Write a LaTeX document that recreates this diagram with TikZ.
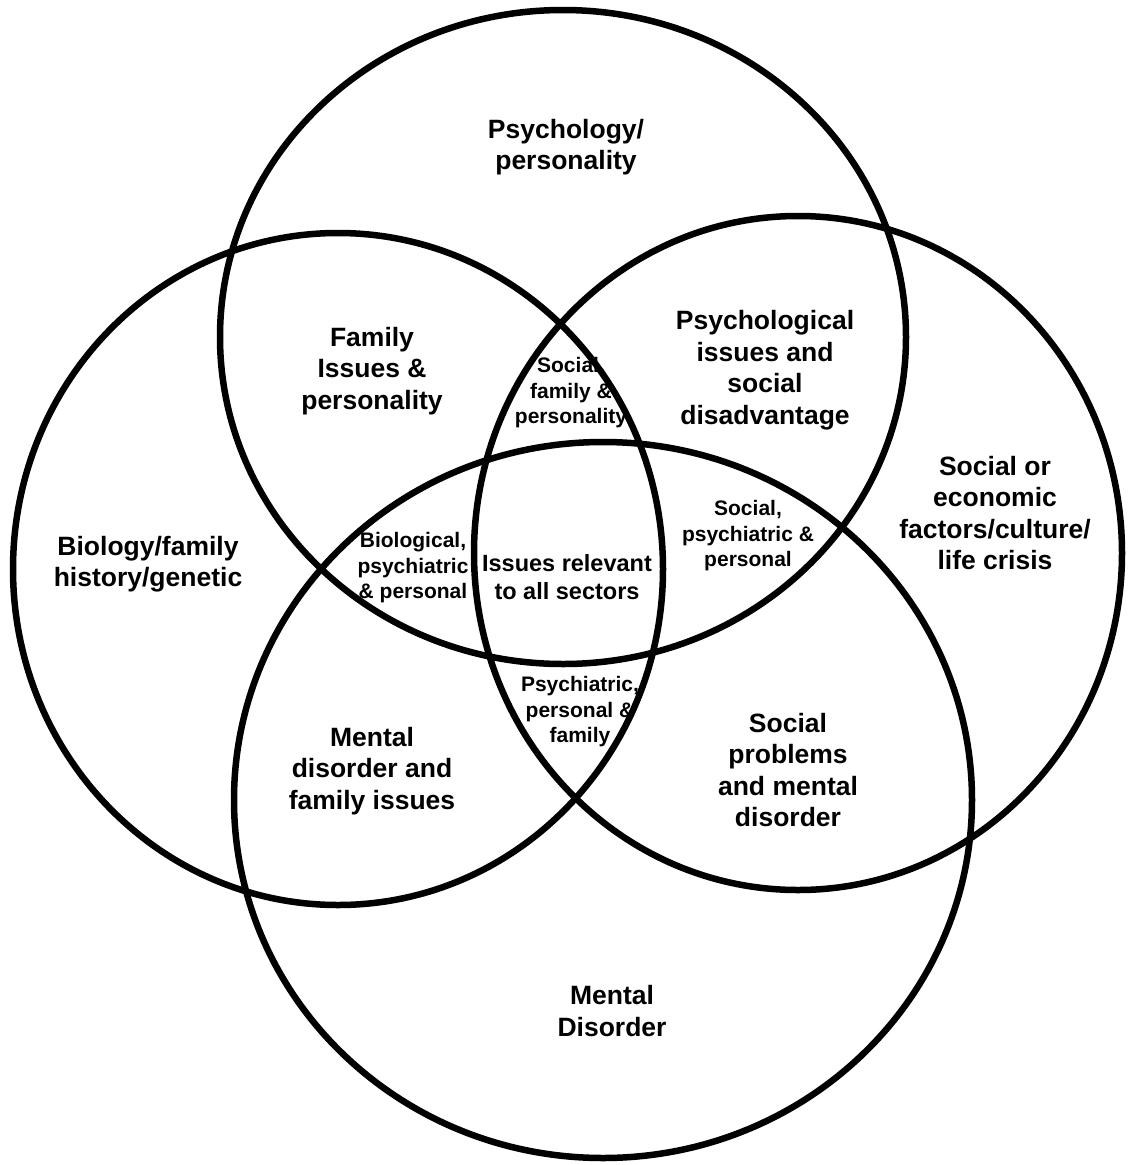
\documentclass[tikz,border=0pt]{standalone}
\usepackage{fontspec}
\setmainfont{Liberation Sans}
\usetikzlibrary{shapes.geometric}

\begin{document}
\begin{tikzpicture}[x=1pt,y=-1pt]
            \tikzstyle{sector}=[ellipse, draw, line width=6.5pt, inner sep=0pt]
            \tikzstyle{big}=[align=center, inner sep=0pt, font=\fontsize{26.5}{31.5}\selectfont\bfseries]
            \tikzstyle{mid}=[align=center, inner sep=0pt, font=\fontsize{23.5}{28.5}\selectfont\bfseries]
            \tikzstyle{small}=[align=center, inner sep=0pt, font=\fontsize{21}{25.5}\selectfont\bfseries]

            \useasboundingbox (0,0) rectangle (1129,1165);

            % single sectors
            \node[big] (psy)  at (566,147)  {Psychology/\\personality};
            \node[big] (bio)  at (148,564)  {Biology/family\\history/genetic};
            \node[big] (soc)  at (995,513)  {Social or\\economic\\factors/culture/\\life crisis};
            \node[big] (men)  at (612,1011) {Mental\\Disorder};

            % two sectors
            \node[big] (fampsy) at (372,371) {Family\\Issues \&\\personality};
            \node[big] (psysoc) at (765,370) {Psychological\\issues and\\social\\disadvantage};
            \node[big] (menfam) at (372,771) {Mental\\disorder and\\family issues};
            \node[big] (socmen) at (788,770) {Social\\problems\\and mental\\disorder};

            % three sectors
            \node[small] (sfp) at (571,393) {Social,\\family \&\\personality};
            \node[small] (bpp) at (413,568) {Biological,\\psychiatric\\\& personal};
            \node[small] (spp) at (748,536) {Social,\\psychiatric \&\\personal};
            \node[small] (ppf) at (580,712) {Psychiatric,\\personal \&\\family};

            % all sectors
            \node[mid] (all) at (567,577) {Issues relevant\\to all sectors};

            \node[sector, minimum width=686pt, minimum height=654pt] (psych)  at (563,337) {};
            \node[sector, minimum width=650pt, minimum height=672pt] (biol)   at (338,569) {};
            \node[sector, minimum width=648pt, minimum height=674pt] (social) at (798,553) {};
            \node[sector, minimum width=738pt, minimum height=716pt] (mental) at (603,800) {};
        \end{tikzpicture}
\end{document}
